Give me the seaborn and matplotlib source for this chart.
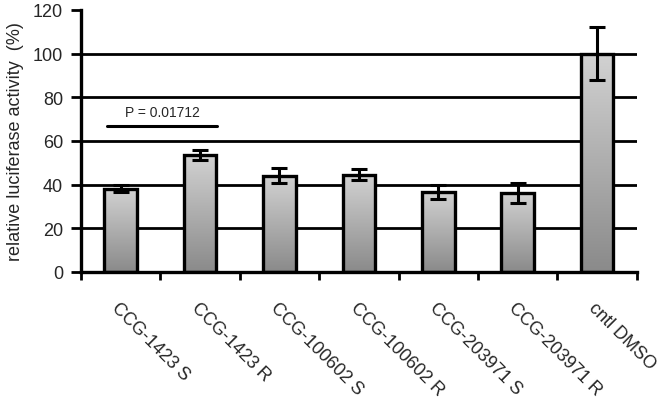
import matplotlib
matplotlib.use("Agg")
import matplotlib.pyplot as plt
import seaborn as sns
import numpy as np
import pandas as pd

sns.set_style("white")
plt.rcParams['font.family'] = ['Liberation Sans', 'DejaVu Sans']

# Data
compounds = ["CCG-1423 S", "CCG-1423 R", "CCG-100602 S", "CCG-100602 R",
             "CCG-203971 S", "CCG-203971 R", "cntl DMSO"]
activity = [38.2, 53.6, 44.0, 44.6, 36.8, 36.2, 100.0]
errors = [1.6, 2.4, 3.4, 2.6, 3.2, 4.4, 12.0]
p_text = "P = 0.01712"
p_level = 66.8

df = pd.DataFrame({"compound": compounds, "activity": activity})

fig, ax = plt.subplots(figsize=(6.66, 4.02), dpi=100)
fig.subplots_adjust(left=0.1216, right=0.956, bottom=0.321, top=0.973)

for v in [20, 40, 60, 80, 100]:
    ax.axhline(v, color="black", linewidth=2.0, zorder=1)

sns.barplot(data=df, x="compound", y="activity", ax=ax, width=0.41,
            color="#aaaaaa", edgecolor="black", linewidth=2.4, zorder=3)

# vertical grey gradient inside each bar
grad = np.linspace(0, 1, 256).reshape(-1, 1)
cmap = matplotlib.colors.LinearSegmentedColormap.from_list("g", ["#8a8a8a", "#d2d2d2"])
for patch in ax.patches:
    x0, y0 = patch.get_x(), patch.get_y()
    w, h = patch.get_width(), patch.get_height()
    im = ax.imshow(grad, cmap=cmap, aspect="auto", origin="lower",
                   extent=(x0, x0 + w, y0, y0 + h), zorder=2)
    im.set_clip_path(patch)
    patch.set_facecolor("none")

ax.errorbar(range(len(compounds)), activity, yerr=errors, fmt="none",
            ecolor="black", elinewidth=2.2, capsize=5.5, capthick=2.2, zorder=4)

# significance line
ax.plot([-0.17, 1.21], [p_level, p_level], color="black", linewidth=2.2, zorder=4)
ax.text(0.52, p_level + 3.4, p_text, ha="center", va="bottom", fontsize=10)

ax.set_xlim(-0.5, len(compounds) - 0.5)
ax.set_ylim(0, 120)
ax.set_yticks(range(0, 121, 20))
ax.set_ylabel("relative luciferase activity  (%)", fontsize=13, labelpad=6)
ax.set_xlabel("")

ax.set_xticks(range(len(compounds)))
ax.set_xticklabels(compounds, rotation=-45, ha="left", va="top",
                   rotation_mode="anchor", fontsize=13)
ax.set_xticks(np.arange(-0.5, len(compounds), 1.0), minor=True)
ax.tick_params(axis="x", which="major", length=0, pad=19)
ax.tick_params(axis="x", which="minor", length=6, width=2, direction="out",
               color="black", bottom=True)
ax.tick_params(axis="y", length=7, width=2, direction="out", color="black",
               labelsize=13, pad=6, left=True)

for side in ["top", "right"]:
    ax.spines[side].set_visible(False)
for side in ["left", "bottom"]:
    ax.spines[side].set_color("black")
    ax.spines[side].set_linewidth(2.4)
    ax.spines[side].set_zorder(5)

fig.savefig("out.png", dpi=100)
